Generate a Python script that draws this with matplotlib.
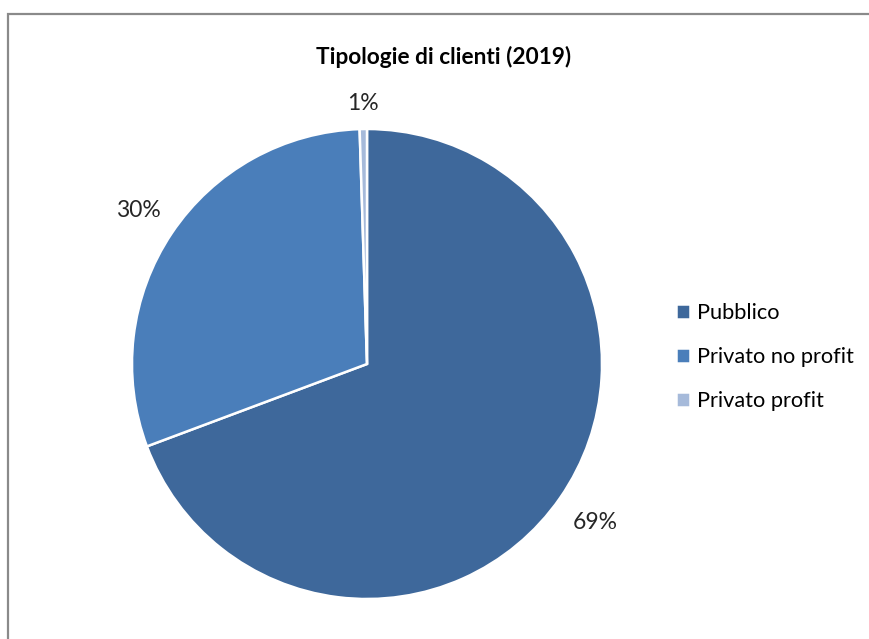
import numpy as np
import matplotlib
matplotlib.use('Agg')
import matplotlib.pyplot as plt
from matplotlib.patches import Rectangle

plt.rcParams['font.family'] = ['Lato', 'DejaVu Sans']

# dati
categorie = ['Pubblico', 'Privato no profit', 'Privato profit']
valori = [69.3, 30.2, 0.5]
colori = ['#3E689B', '#4A7EBA', '#A6BADA']
dist_etichette = [1.18, 1.17, 1.11]

W, H = 869, 639
fig = plt.figure(figsize=(W / 100, H / 100), dpi=100)

# cornice grigia del grafico
fig.patches.append(Rectangle((8 / W, -0.1), 1.2, 1.1 - 14 / H, transform=fig.transFigure,
                             fill=False, edgecolor='#8a8a8a', linewidth=1.6))

# asse quadrato per la torta: centro (367, 364), raggio 235 px
cx, cy, r = 367, 364, 235
ax = fig.add_axes([(cx - r) / W, (H - cy - r) / H, 2 * r / W, 2 * r / H])
wedges, _ = ax.pie(valori, colors=colori, startangle=90, counterclock=False,
                   wedgeprops=dict(edgecolor='white', linewidth=1.8))
ax.set_xlim(-1, 1)
ax.set_ylim(-1, 1)
ax.set_aspect('equal')

# etichette percentuali fuori dalla torta
tot = sum(valori)
ang = 90.0
for v, d in zip(valori, dist_etichette):
    span = 360.0 * v / tot
    mid = np.deg2rad(ang - span / 2)
    ang -= span
    ax.text(d * np.cos(mid), d * np.sin(mid), '%d%%' % int(v / tot * 100 + 0.5),
            ha='center', va='center', fontsize=16.5, color='#262626', clip_on=False)

fig.text(444 / W, 1 - 57 / H, 'Tipologie di clienti (2019)', ha='center', va='center',
         fontsize=16.3, fontweight='bold', color='#000000')

fig.legend(wedges, categorie, loc='center left', bbox_to_anchor=(656 / W, 1 - 357 / H),
           frameon=False, fontsize=15.7, handlelength=0.65, handleheight=0.65,
           handletextpad=0.35, labelspacing=1.1)

fig.savefig('out.png', dpi=100)
